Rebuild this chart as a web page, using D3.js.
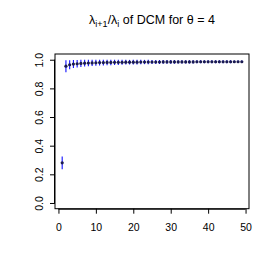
<!DOCTYPE html>
<html><head><meta charset="utf-8">
<script src="https://cdn.jsdelivr.net/npm/d3@7"></script>
<style>body{margin:0;background:#fff}svg{display:block}text{font-family:"Liberation Sans",Arial,sans-serif}</style>
</head><body><svg id="c" width="277" height="277"></svg>
<script>
const idx = d3.range(1, 50);
const means = [0.28,0.955,0.965,0.970,0.972,0.974,0.976,0.977,0.978,0.979,
0.980,0.980,0.981,0.981,0.982,0.982,0.982,0.983,0.983,0.983,
0.983,0.984,0.984,0.984,0.984,0.984,0.984,0.985,0.985,0.985,
0.985,0.985,0.985,0.985,0.985,0.985,0.986,0.986,0.986,0.986,
0.986,0.986,0.986,0.986,0.986,0.986,0.986,0.986,0.986];
const halfw = [0.045,0.042,0.032,0.028,0.026,0.025,0.024,0.023,0.022,0.021,
0.020,0.020,0.019,0.019,0.018,0.018,0.017,0.017,0.016,0.016,
0.016,0.015,0.015,0.015,0.014,0.014,0.014,0.013,0.013,0.013,
0.013,0.012,0.012,0.012,0.012,0.011,0.011,0.011,0.011,0.011,
0.010,0.010,0.010,0.010,0.010,0.010,0.009,0.009,0.009];
const xTicks = [0,10,20,30,40,50];
const yTicks = [0.0,0.2,0.4,0.6,0.8,1.0];

const svg = d3.select("#c");
const L=55, R=249, T=54, B=208.7;
const x = d3.scaleLinear().domain([1-48*0.04, 49+48*0.04]).range([L,R]);
const y = d3.scaleLinear().domain([-0.04, 1.04]).range([B,T]);

svg.append("rect").attr("x",L).attr("y",T).attr("width",R-L).attr("height",B-T)
  .attr("fill","none").attr("stroke","#000").attr("stroke-width",1);

const xa = svg.append("g").attr("transform",`translate(0,${B})`)
  .call(d3.axisBottom(x).tickValues(xTicks).tickSize(5).tickPadding(10).tickFormat(d3.format("d")));
xa.select(".domain").attr("d",`M${x(0)},0.5H${x(50)}`);
const ya = svg.append("g").attr("transform",`translate(${L},0)`)
  .call(d3.axisLeft(y).tickValues(yTicks).tickSize(5).tickFormat(d3.format(".1f")));
ya.select(".domain").attr("d",`M-0.5,${y(0)}V${y(1)}`);
ya.selectAll(".tick text").attr("transform","rotate(-90)").attr("x",0).attr("dy",0)
  .attr("y",-12).attr("text-anchor","middle");
svg.selectAll(".tick text").attr("font-size",10.5).attr("fill","#000")
  .attr("font-family","'Liberation Sans',Arial,sans-serif");
svg.selectAll(".tick line").attr("stroke","#000");

svg.append("g").selectAll("line").data(idx).join("line")
  .attr("x1",d=>x(d)).attr("x2",d=>x(d))
  .attr("y1",(d,i)=>y(means[i]-halfw[i])).attr("y2",(d,i)=>y(means[i]+halfw[i]))
  .attr("stroke","#1010ff").attr("stroke-width",1.1);
svg.append("g").selectAll("circle").data(idx).join("circle")
  .attr("cx",d=>x(d)).attr("cy",(d,i)=>y(means[i])).attr("r",1.6)
  .attr("fill","#1a1a50");

const t = svg.append("text").attr("x",(L+R)/2).attr("y",24).attr("text-anchor","middle")
  .attr("font-size",12.5);
t.append("tspan").text("λ");
t.append("tspan").attr("font-size",9).attr("dy",2.5).text("i+1");
t.append("tspan").attr("dy",-2.5).text("/λ");
t.append("tspan").attr("font-size",9).attr("dy",2.5).text("i");
t.append("tspan").attr("dy",-2.5).text("  of DCM for  θ = 4");
</script></body></html>
